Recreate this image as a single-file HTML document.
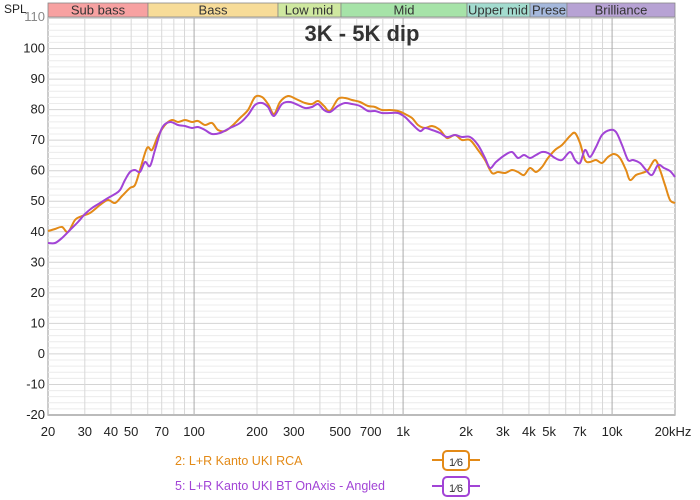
<!DOCTYPE html>
<html><head><meta charset="utf-8"><style>
html,body{margin:0;padding:0;background:#fff;}
svg{display:block;font-family:"Liberation Sans",sans-serif;}
</style></head><body>
<svg id="s" width="700" height="500" xmlns="http://www.w3.org/2000/svg">
<rect width="700" height="500" fill="#fff"/>
<g id="grid"></g>
<rect x="48" y="3" width="100" height="14" fill="#f7a1a1" stroke="#888" stroke-width="0.8"/>
<rect x="148" y="3" width="130" height="14" fill="#f7dc98" stroke="#888" stroke-width="0.8"/>
<rect x="278" y="3" width="63" height="14" fill="#cfe8a0" stroke="#888" stroke-width="0.8"/>
<rect x="341" y="3" width="126" height="14" fill="#a6e3a8" stroke="#888" stroke-width="0.8"/>
<rect x="467" y="3" width="63" height="14" fill="#a3dccf" stroke="#888" stroke-width="0.8"/>
<rect x="530" y="3" width="37" height="14" fill="#a5b8dc" stroke="#888" stroke-width="0.8"/>
<rect x="567" y="3" width="108" height="14" fill="#b7a2d4" stroke="#888" stroke-width="0.8"/>
<g font-size="13" fill="#333" text-anchor="middle">
<text x="98" y="14.5">Sub bass</text><text x="213" y="14.5">Bass</text><text x="309" y="14.5">Low mid</text>
<text x="404" y="14.5">Mid</text><text x="498" y="14.5">Upper mid</text>
<svg x="530" y="0" width="37" height="17"><text x="2" y="14.5" text-anchor="start">Presence</text></svg>
<text x="621" y="14.5">Brilliance</text></g>
<text x="4" y="13" font-size="12" fill="#222">SPL</text>
<text x="362" y="41" font-size="22" font-weight="bold" fill="#333" text-anchor="middle">3K - 5K dip</text>
<g id="lab" font-size="13" fill="#222"></g>
<path id="po" fill="none" stroke="#e38a17" stroke-width="2" stroke-linejoin="round"/>
<path id="pp" fill="none" stroke="#a244d6" stroke-width="2" stroke-linejoin="round"/>
<text x="175" y="465" font-size="12.5" fill="#e38a17">2: L+R Kanto UKI RCA</text>
<text x="175" y="490" font-size="12.5" fill="#a244d6">5: L+R Kanto UKI BT OnAxis - Angled</text>
<g stroke="#e38a17" stroke-width="2" fill="none"><line x1="432" y1="460" x2="480" y2="460"/><rect x="443" y="451" width="26" height="19" rx="4" fill="#fff"/></g>
<text x="456" y="466" font-size="11" fill="#333" text-anchor="middle">1⁄6</text>
<g stroke="#a244d6" stroke-width="2" fill="none"><line x1="432" y1="486" x2="480" y2="486"/><rect x="443" y="477" width="26" height="19" rx="4" fill="#fff"/></g>
<text x="456" y="492" font-size="11" fill="#333" text-anchor="middle">1⁄6</text>
</svg>
<script>
var NS="http://www.w3.org/2000/svg",g=document.getElementById("grid"),lab=document.getElementById("lab");
function el(p,t,a){var e=document.createElementNS(NS,t);for(var k in a)e.setAttribute(k,a[k]);p.appendChild(e);return e;}
var L=48,R=675,T=18,B=415;
function X(f){return L+(R-L)*Math.log10(f/20)/3;}
function Y(d){return B-(d+20)*(B-T)/130;}
el(g,"rect",{x:L,y:T,width:R-L,height:B-T,fill:"#fff",stroke:"#bbb","stroke-width":1.5});
for(var d=-20;d<=110;d+=2){el(g,"line",{x1:L,x2:R,y1:Y(d),y2:Y(d),stroke:d%10==0?"#d4d4d4":"#ececec","stroke-width":1});}
var fs=[];[10,100,1000,10000].forEach(function(m){for(var i=1;i<10;i++){var f=i*m;if(f>20&&f<20000)fs.push(f);}});
fs.forEach(function(f){var maj=(f==100||f==1000||f==10000);el(g,"line",{x1:X(f),x2:X(f),y1:T,y2:B,stroke:maj?"#aaa":"#d8d8d8","stroke-width":1});});
el(g,"line",{x1:L,x2:R,y1:B,y2:B,stroke:"#bbb","stroke-width":2});
for(var d=-20;d<=110;d+=10){var t=el(lab,"text",{x:45,y:Y(d)+(d==110?3:4),"text-anchor":"end","font-size":13,fill:d==110?"#888":"#222"});t.textContent=d;}
var xl=[[20,"20"],[30,"30"],[40,"40"],[50,"50"],[70,"70"],[100,"100"],[200,"200"],[300,"300"],[500,"500"],[700,"700"],[1000,"1k"],[2000,"2k"],[3000,"3k"],[4000,"4k"],[5000,"5k"],[7000,"7k"],[10000,"10k"],[20000,"20kHz"]];
xl.forEach(function(p){var t=el(lab,"text",{x:X(p[0])+(p[0]==20000?-2:0),y:436,"text-anchor":"middle","font-size":13});t.textContent=p[1];});
function smooth(s){var a=s.trim().split(/\s+/).map(function(q){return q.split(",").map(Number);});
var d="M"+a[0][0]+","+a[0][1];
for(var i=0;i<a.length-1;i++){var p0=a[i-1]||a[i],p1=a[i],p2=a[i+1],p3=a[i+2]||p2;
d+=" C"+(p1[0]+(p2[0]-p0[0])/6).toFixed(1)+","+(p1[1]+(p2[1]-p0[1])/6).toFixed(1)+" "+(p2[0]-(p3[0]-p1[0])/6).toFixed(1)+","+(p2[1]-(p3[1]-p1[1])/6).toFixed(1)+" "+p2[0]+","+p2[1];}
return d;}
document.getElementById("po").setAttribute("d",smooth("48,231 55,229 62,227 68,232 75,220 82,216 90,213 100,205 108,200 115,203 122,196 130,188 135,185 140,170 147,148 152,150 158,136 165,125 172,120 178,122 185,120 192,122 198,121 205,125 212,123 218,130 225,131 232,126 240,118 248,110 255,97 262,97 268,104 274,114 280,102 288,96 296,99 305,103 312,104 318,101 324,106 330,111 338,99 345,98 352,100 360,102 368,106 375,107 382,110 390,110 398,111 405,114 412,118 418,125 425,128 432,126 440,130 447,138 455,135 462,140 470,140 478,150 485,160 492,173 498,172 505,173 512,170 518,172 524,175 530,168 536,172 542,167 548,158 555,150 562,145 570,136 575,133 580,143 585,160 590,162 596,160 602,163 608,157 614,154 620,158 626,170 630,180 636,175 642,173 648,170 655,160 660,170 665,185 670,200 675,203"));
document.getElementById("pp").setAttribute("d",smooth("48,243 55,243 62,238 70,230 78,222 85,214 92,208 100,203 108,198 115,194 120,190 125,180 130,172 135,170 140,172 145,162 150,166 155,150 162,128 170,122 178,125 185,126 192,128 198,127 205,130 212,134 220,133 230,128 240,123 248,115 255,105 262,103 268,107 274,116 282,104 290,102 298,105 305,108 312,107 318,104 324,110 330,112 338,106 345,103 352,104 360,106 368,111 375,111 382,113 390,113 398,113 405,117 412,124 420,131 425,128 432,130 440,133 447,137 455,135 462,137 470,137 478,145 485,158 490,168 496,162 505,155 512,152 518,158 524,155 530,158 536,155 542,152 548,153 555,158 562,160 570,152 575,160 580,163 585,150 590,157 596,147 602,135 610,130 616,132 622,145 628,160 633,160 640,163 646,170 652,175 658,165 664,168 670,171 675,177"));
</script>
</body></html>
